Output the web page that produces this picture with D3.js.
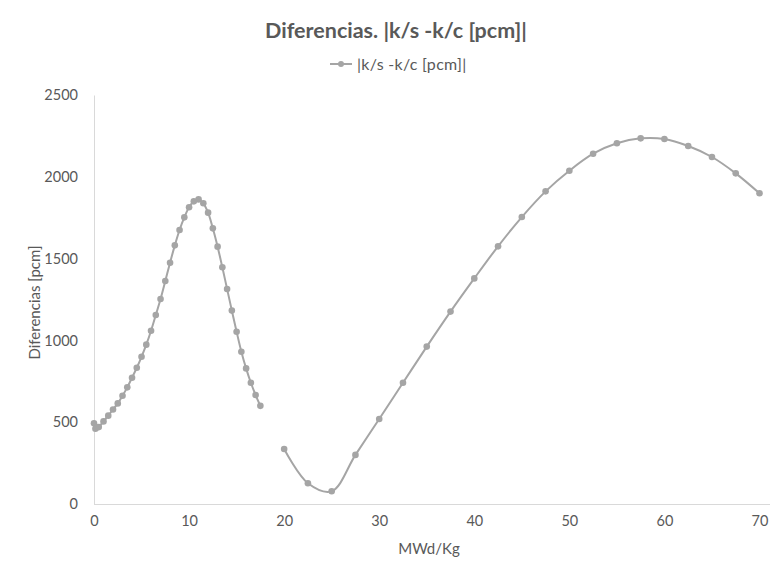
<!DOCTYPE html>
<html>
<head>
<meta charset="utf-8">
<script src="https://cdn.jsdelivr.net/npm/d3@7"></script>
<style>
  html, body { margin: 0; padding: 0; background: #ffffff; }
  svg { display: block; font-family: Lato, "Open Sans", sans-serif; }
</style>
</head>
<body>
<svg id="chart" width="779" height="571"></svg>
<script>
// Segment 1 (0 – 17.5 MWd/Kg)
const burnupA = [0, 0.15, 0.5, 1, 1.5, 2, 2.5, 3, 3.5, 4, 4.5, 5, 5.5, 6, 6.5, 7, 7.5, 8, 8.5, 9, 9.5, 10, 10.5, 11, 11.5, 12, 12.5, 13, 13.5, 14, 14.5, 15, 15.5, 16, 16.5, 17, 17.5];
const diffA   = [494, 460, 470, 505, 540, 578, 615, 662, 713, 772, 833, 900, 974, 1059, 1155, 1253, 1363, 1475, 1581, 1675, 1752, 1814, 1850, 1862, 1838, 1781, 1685, 1573, 1447, 1314, 1182, 1053, 931, 829, 741, 666, 600];
// Segment 2 (20 – 70 MWd/Kg)
const burnupB = [20, 22.5, 25, 27.5, 30, 32.5, 35, 37.5, 40, 42.5, 45, 47.5, 50, 52.5, 55, 57.5, 60, 62.5, 65, 67.5, 70];
const diffB   = [336, 127, 78, 300, 520, 741, 962, 1176, 1379, 1575, 1754, 1911, 2037, 2141, 2205, 2235, 2231, 2188, 2121, 2021, 1899];

const xTicks = [0, 10, 20, 30, 40, 50, 60, 70];
const yTicks = [0, 500, 1000, 1500, 2000, 2500];

const titleText = "Diferencias. |k/s -k/c [pcm]|";
const seriesName = "|k/s -k/c [pcm]|";
const xTitle = "MWd/Kg";
const yTitle = "Diferencias [pcm]";

const svg = d3.select("#chart");
const plotLeft = 94, plotTop = 95, plotRight = 770, plotBottom = 504;

const x = d3.scaleLinear().domain([0, 70]).range([plotLeft, 759.5]);
const y = d3.scaleLinear().domain([0, 2500]).range([plotBottom, plotTop]);

const textColor = "#595959";
const axisColor = "#d9d9d9";
const seriesColor = "#a5a5a5";

// Title
svg.append("text")
  .attr("x", 396).attr("y", 38)
  .attr("text-anchor", "middle")
  .attr("font-size", 21.5).attr("font-weight", "bold")
  .attr("fill", textColor)
  .text(titleText);

// Legend
const lg = svg.append("g");
lg.append("line").attr("x1", 330).attr("x2", 352).attr("y1", 64).attr("y2", 64)
  .attr("stroke", seriesColor).attr("stroke-width", 2);
lg.append("circle").attr("cx", 341).attr("cy", 64).attr("r", 3).attr("fill", seriesColor);
lg.append("text").attr("x", 357).attr("y", 69.5)
  .attr("font-size", 16).attr("letter-spacing", 0.3).attr("fill", textColor).text(seriesName);

// Y axis
const yAxis = d3.axisLeft(y).tickValues(yTicks).tickSize(0).tickPadding(16).tickFormat(d3.format("d"));
const gy = svg.append("g").attr("transform", `translate(${plotLeft},0)`).call(yAxis);
gy.select(".domain").attr("stroke", axisColor);
gy.selectAll("text").attr("font-size", 14.5).attr("fill", textColor).attr("font-family", "Lato, sans-serif");

// X axis
const xAxis = d3.axisBottom(x).tickValues(xTicks).tickSize(0).tickPadding(12).tickFormat(d3.format("d"));
const gx = svg.append("g").attr("transform", `translate(0,${plotBottom})`).call(xAxis);
gx.select(".domain").attr("d", `M${plotLeft},0.5H${plotRight}`).attr("stroke", axisColor);
gx.selectAll("text").attr("font-size", 14.5).attr("fill", textColor).attr("font-family", "Lato, sans-serif");

// Axis titles
svg.append("text")
  .attr("x", 429).attr("y", 554)
  .attr("text-anchor", "middle").attr("font-size", 15).attr("fill", textColor)
  .text(xTitle);
svg.append("text")
  .attr("transform", `translate(40,${(plotTop + plotBottom) / 2 + 3}) rotate(-90)`)
  .attr("text-anchor", "middle").attr("font-size", 15).attr("fill", textColor)
  .text(yTitle);

// Series
const segA = burnupA.map((b, i) => ({ x: b, y: diffA[i] }));
const segB = burnupB.map((b, i) => ({ x: b, y: diffB[i] }));
const line = d3.line().x(d => x(d.x)).y(d => y(d.y)).curve(d3.curveCatmullRom.alpha(0.5));

[segA, segB].forEach(seg => {
  svg.append("path").datum(seg)
    .attr("d", line).attr("fill", "none")
    .attr("stroke", seriesColor).attr("stroke-width", 2)
    .attr("stroke-linejoin", "round");
  svg.append("g").selectAll("circle").data(seg).join("circle")
    .attr("cx", d => x(d.x)).attr("cy", d => y(d.y)).attr("r", 3.3)
    .attr("fill", seriesColor);
});
</script>
</body>
</html>
